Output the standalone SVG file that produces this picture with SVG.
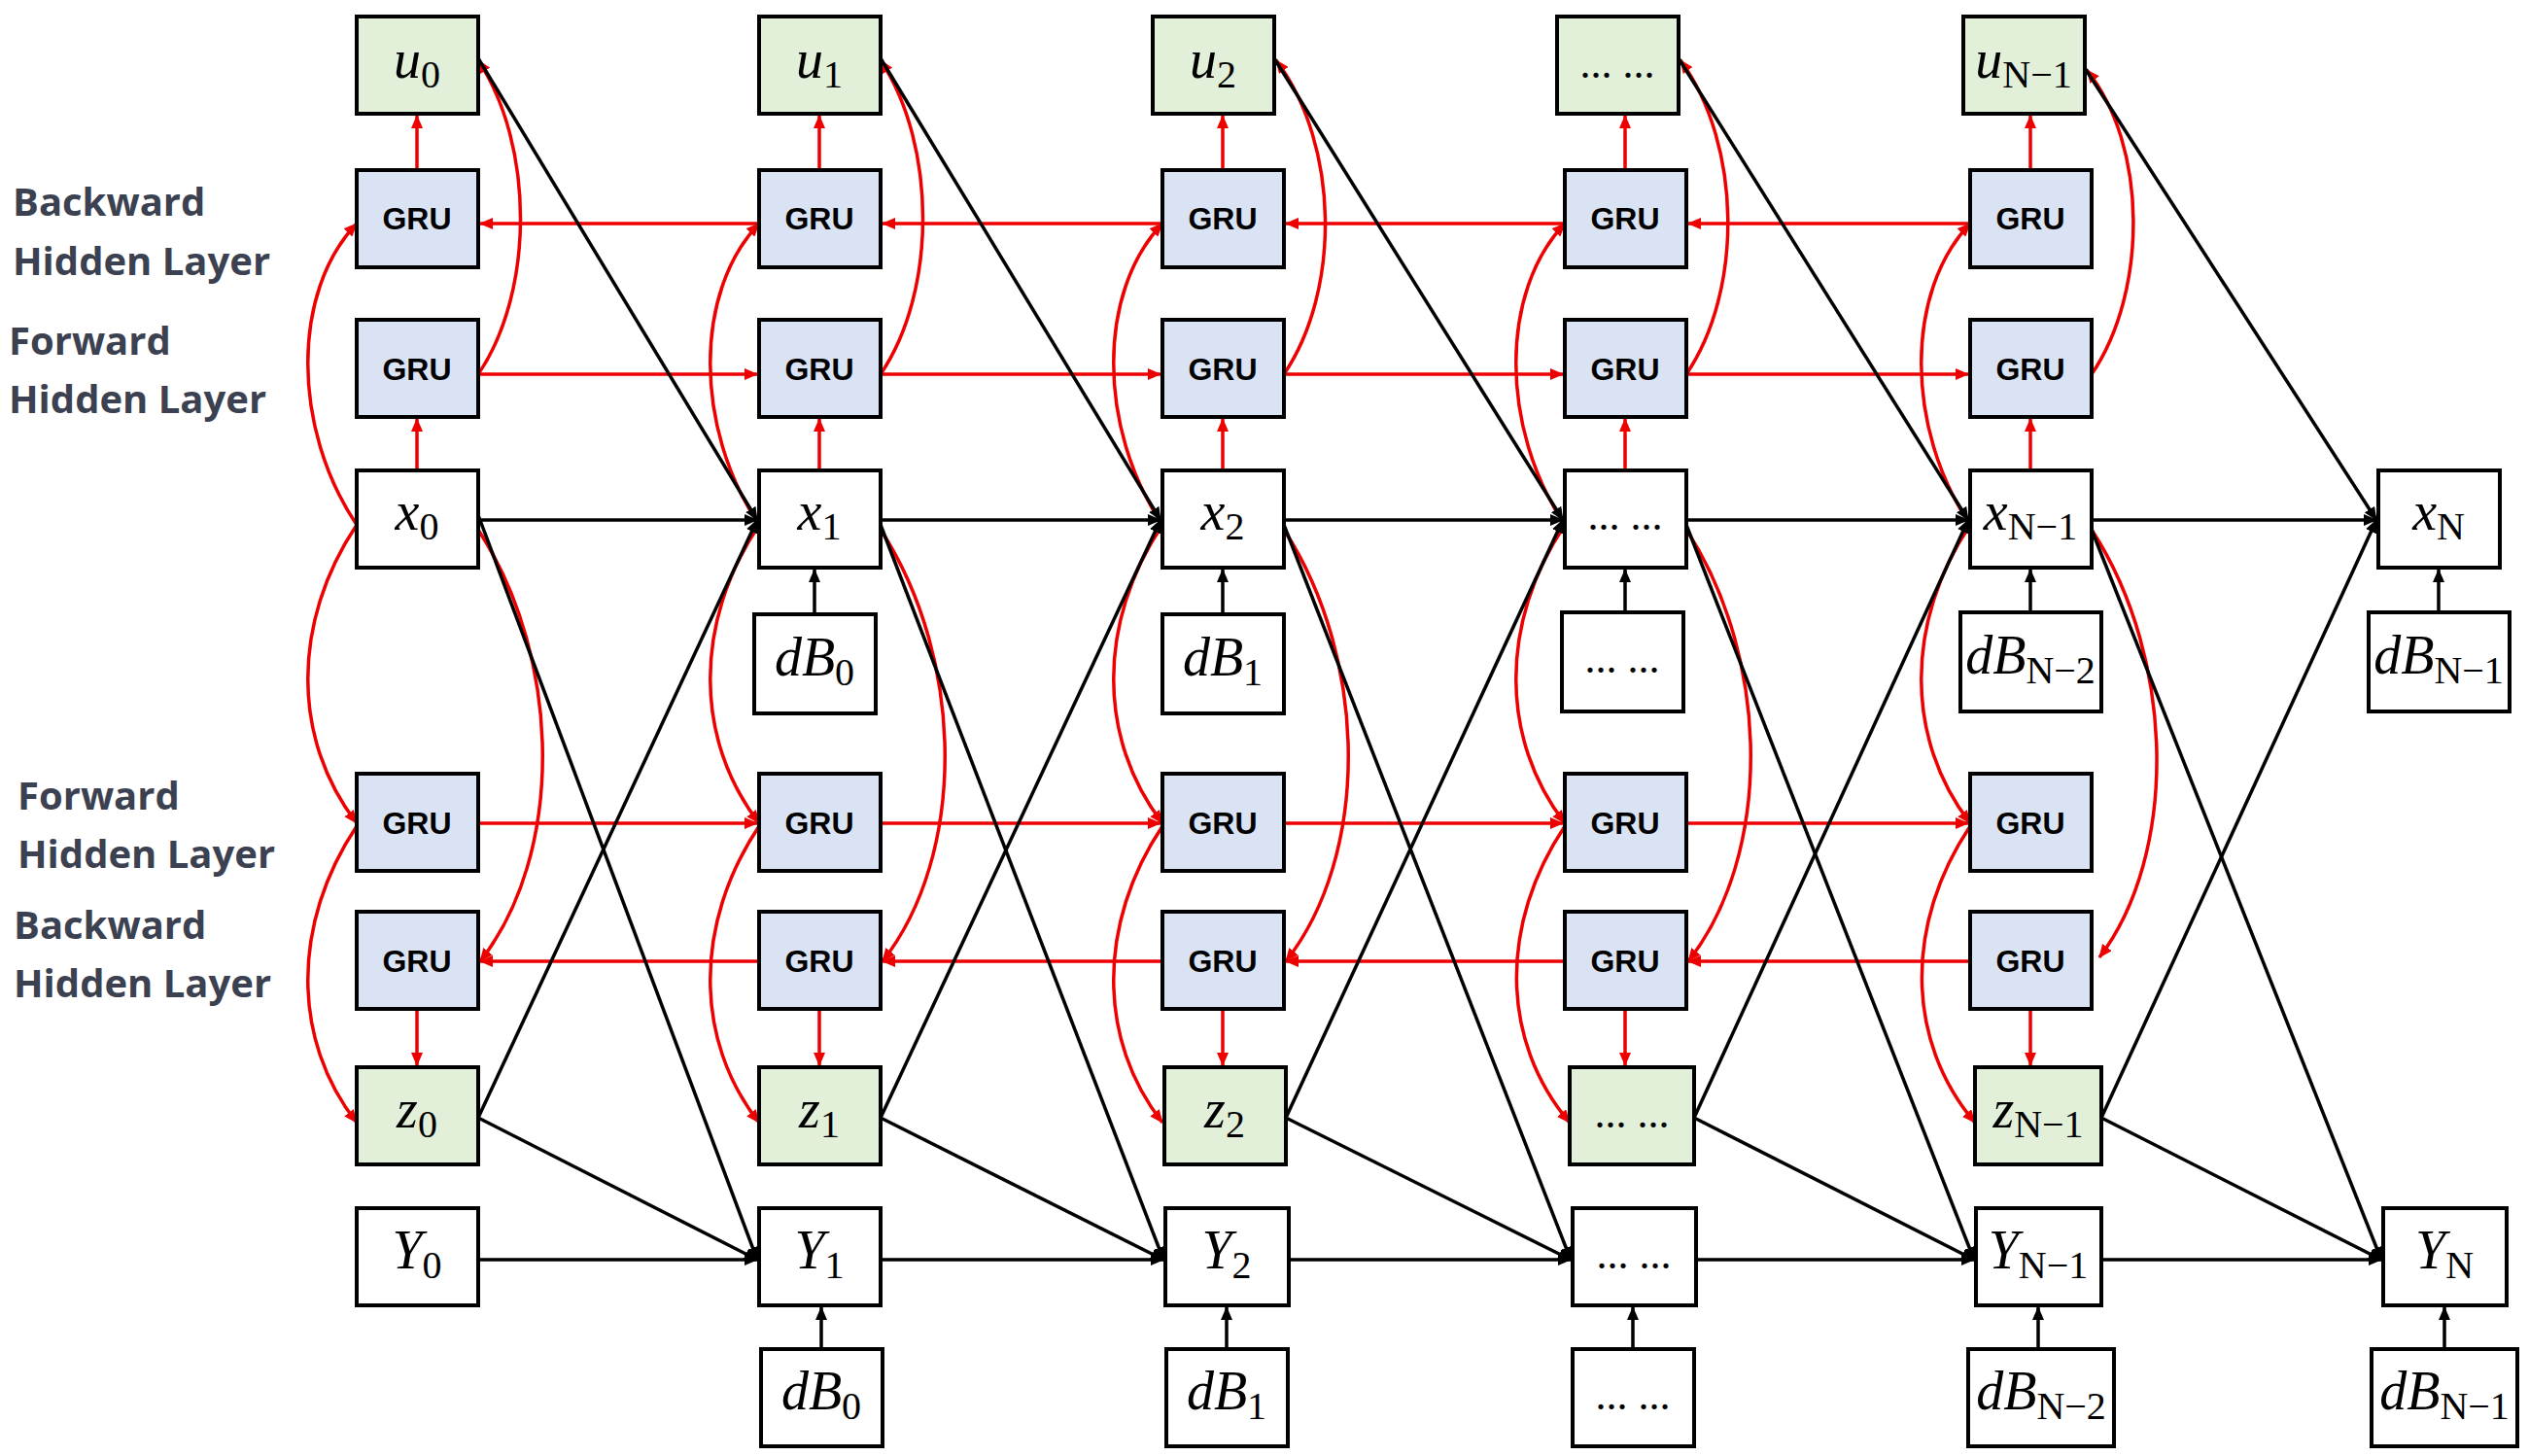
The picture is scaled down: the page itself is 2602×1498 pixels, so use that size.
<svg xmlns="http://www.w3.org/2000/svg" width="2602" height="1498" viewBox="0 0 2602 1498">
<defs>
<marker id="ab" markerWidth="14" markerHeight="12" refX="13" refY="6" orient="auto" markerUnits="userSpaceOnUse" viewBox="0 0 14 12"><path d="M0,0 L14,6 L0,12 z" fill="#000"/></marker>
<marker id="ar" markerWidth="14" markerHeight="12" refX="13" refY="6" orient="auto" markerUnits="userSpaceOnUse" viewBox="0 0 14 12"><path d="M0,0 L14,6 L0,12 z" fill="#e00"/></marker>
<style>
.b{stroke:#000;stroke-width:4}
.w{fill:#fff}.g{fill:#e2efd9}.bl{fill:#dae3f3}
.k{stroke:#000;stroke-width:3.5;fill:none;marker-end:url(#ab)}
.r{stroke:#e00;stroke-width:3.5;fill:none;marker-end:url(#ar)}
.m{font-family:"Liberation Serif",serif;font-style:italic;font-size:56px;text-anchor:middle}
.s{font-style:normal;font-size:40px}
.d{font-family:"Liberation Serif",serif;font-size:44px;text-anchor:middle}
.gru{font-family:"Liberation Sans",Arial,sans-serif;font-weight:bold;font-size:32px;text-anchor:middle}
.lab{font-family:"Open Sans","Liberation Sans",sans-serif;font-weight:bold;font-size:40px;fill:#3b4150}
</style>
</defs>
<g id="labels">
<text class="lab" x="13" y="222">Backward</text><text class="lab" x="13" y="283">Hidden Layer</text>
<text class="lab" x="9" y="365">Forward</text><text class="lab" x="9" y="425">Hidden Layer</text>
<text class="lab" x="18" y="833">Forward</text><text class="lab" x="18" y="893">Hidden Layer</text>
<text class="lab" x="14" y="966">Backward</text><text class="lab" x="14" y="1026">Hidden Layer</text>
</g>
<g id="connectors">
<path class="r" d="M429,175V119"/><path class="r" d="M843,175V119"/><path class="r" d="M1258,175V119"/><path class="r" d="M1672,175V119"/><path class="r" d="M2089,175V119"/>
<path class="r" d="M429,484V431"/><path class="r" d="M843,484V431"/><path class="r" d="M1258,484V431"/><path class="r" d="M1672,484V431"/><path class="r" d="M2089,484V431"/>
<path class="r" d="M429,1038V1096"/><path class="r" d="M843,1038V1096"/><path class="r" d="M1258,1038V1096"/><path class="r" d="M1672,1038V1096"/><path class="r" d="M2089,1038V1096"/>
<path class="r" d="M781,230H494"/><path class="r" d="M1196,230H908"/><path class="r" d="M1610,230H1323"/><path class="r" d="M2027,230H1737"/>
<path class="r" d="M492,385H779"/><path class="r" d="M906,385H1194"/><path class="r" d="M1321,385H1608"/><path class="r" d="M1735,385H2025"/>
<path class="r" d="M492,847H779"/><path class="r" d="M906,847H1194"/><path class="r" d="M1321,847H1608"/><path class="r" d="M1735,847H2025"/>
<path class="r" d="M781,989H494"/><path class="r" d="M1196,989H908"/><path class="r" d="M1610,989H1323"/><path class="r" d="M2027,989H1737"/>
<path class="r" d="M367,540 C300,440 300,300 367,230"/>
<path class="r" d="M367,540 C300,640 300,760 367,847"/>
<path class="r" d="M367,850 C300,950 300,1070 367,1155"/>
<path class="r" d="M492,385 C550,300 550,150 492,62"/>
<path class="r" d="M492,545 C580,680 580,880 494,989"/>
<path class="r" d="M781,540 C714,440 714,300 781,230"/>
<path class="r" d="M781,540 C714,640 714,760 781,847"/>
<path class="r" d="M781,850 C714,950 714,1070 781,1155"/>
<path class="r" d="M906,385 C964,300 964,150 906,62"/>
<path class="r" d="M906,545 C994,680 994,880 908,989"/>
<path class="r" d="M1196,540 C1129,440 1129,300 1196,230"/>
<path class="r" d="M1196,540 C1129,640 1129,760 1196,847"/>
<path class="r" d="M1196,850 C1129,950 1129,1070 1196,1155"/>
<path class="r" d="M1321,385 C1379,300 1379,150 1313,62"/>
<path class="r" d="M1321,545 C1409,680 1409,880 1323,989"/>
<path class="r" d="M1610,540 C1543,440 1543,300 1610,230"/>
<path class="r" d="M1610,540 C1543,640 1543,760 1610,847"/>
<path class="r" d="M1610,850 C1543,950 1543,1070 1615,1155"/>
<path class="r" d="M1735,385 C1793,300 1793,150 1729,62"/>
<path class="r" d="M1735,545 C1823,680 1823,880 1737,989"/>
<path class="r" d="M2027,540 C1960,440 1960,300 2027,230"/>
<path class="r" d="M2027,540 C1960,640 1960,760 2027,847"/>
<path class="r" d="M2027,850 C1960,950 1960,1070 2032,1155"/>
<path class="r" d="M2152,385 C2210,300 2210,150 2147,72"/>
<path class="r" d="M2152,545 C2240,680 2240,880 2160,985"/>
<path class="k" d="M492,535H779"/><path class="k" d="M906,535H1194"/><path class="k" d="M1321,535H1608"/><path class="k" d="M1735,535H2025"/><path class="k" d="M2152,535H2445"/>
<path class="k" d="M492,1296H779"/><path class="k" d="M906,1296H1197"/><path class="k" d="M1326,1296H1616"/><path class="k" d="M1745,1296H2031"/><path class="k" d="M2162,1296H2450"/>
<path class="k" d="M838,632V586"/><path class="k" d="M1258,632V586"/><path class="k" d="M1672,630V586"/><path class="k" d="M2089,630V586"/><path class="k" d="M2509,630V586"/>
<path class="k" d="M845,1388V1345"/><path class="k" d="M1262,1388V1345"/><path class="k" d="M1680,1388V1345"/><path class="k" d="M2097,1388V1345"/><path class="k" d="M2515,1388V1345"/>
<path class="k" d="M492,60L779,535"/><path class="k" d="M906,60L1194,535"/><path class="k" d="M1311,60L1608,535"/><path class="k" d="M1727,60L2025,535"/><path class="k" d="M2145,70L2445,535"/>
<path class="k" d="M492,530L779,1296"/><path class="k" d="M906,540L1197,1296"/><path class="k" d="M1321,540L1616,1296"/><path class="k" d="M1735,540L2031,1296"/><path class="k" d="M2152,545L2450,1296"/>
<path class="k" d="M492,1150L779,535"/><path class="k" d="M906,1150L1194,535"/><path class="k" d="M1323,1150L1608,535"/><path class="k" d="M1743,1150L2025,535"/><path class="k" d="M2162,1150L2445,535"/>
<path class="k" d="M492,1150L779,1296"/><path class="k" d="M906,1150L1197,1296"/><path class="k" d="M1323,1150L1616,1296"/><path class="k" d="M1743,1150L2031,1296"/><path class="k" d="M2162,1150L2450,1296"/>
</g>
<g id="nodes">
<g id="u0"><rect class="b g" x="367" y="17" width="125" height="100"/><text class="m" x="429" y="80">u<tspan class="s" dy="10">0</tspan></text></g>
<g id="u1"><rect class="b g" x="781" y="17" width="125" height="100"/><text class="m" x="843" y="80">u<tspan class="s" dy="10">1</tspan></text></g>
<g id="u2"><rect class="b g" x="1186" y="17" width="125" height="100"/><text class="m" x="1248" y="80">u<tspan class="s" dy="10">2</tspan></text></g>
<g id="u3"><rect class="b g" x="1602" y="17" width="125" height="100"/><text class="d" x="1664" y="80">... ...</text></g>
<g id="u4"><rect class="b g" x="2020" y="17" width="125" height="100"/><text class="m" x="2082" y="80">u<tspan class="s" dy="10">N−1</tspan></text></g>
<g id="bg0"><rect class="b bl" x="367" y="175" width="125" height="100"/><text class="gru" x="429" y="236">GRU</text></g>
<g id="bg1"><rect class="b bl" x="781" y="175" width="125" height="100"/><text class="gru" x="843" y="236">GRU</text></g>
<g id="bg2"><rect class="b bl" x="1196" y="175" width="125" height="100"/><text class="gru" x="1258" y="236">GRU</text></g>
<g id="bg3"><rect class="b bl" x="1610" y="175" width="125" height="100"/><text class="gru" x="1672" y="236">GRU</text></g>
<g id="bg4"><rect class="b bl" x="2027" y="175" width="125" height="100"/><text class="gru" x="2089" y="236">GRU</text></g>
<g id="fg0"><rect class="b bl" x="367" y="329" width="125" height="100"/><text class="gru" x="429" y="391">GRU</text></g>
<g id="fg1"><rect class="b bl" x="781" y="329" width="125" height="100"/><text class="gru" x="843" y="391">GRU</text></g>
<g id="fg2"><rect class="b bl" x="1196" y="329" width="125" height="100"/><text class="gru" x="1258" y="391">GRU</text></g>
<g id="fg3"><rect class="b bl" x="1610" y="329" width="125" height="100"/><text class="gru" x="1672" y="391">GRU</text></g>
<g id="fg4"><rect class="b bl" x="2027" y="329" width="125" height="100"/><text class="gru" x="2089" y="391">GRU</text></g>
<g id="x0"><rect class="b w" x="367" y="484" width="125" height="100"/><text class="m" x="429" y="545">x<tspan class="s" dy="10">0</tspan></text></g>
<g id="x1"><rect class="b w" x="781" y="484" width="125" height="100"/><text class="m" x="843" y="545">x<tspan class="s" dy="10">1</tspan></text></g>
<g id="x2"><rect class="b w" x="1196" y="484" width="125" height="100"/><text class="m" x="1258" y="545">x<tspan class="s" dy="10">2</tspan></text></g>
<g id="x3"><rect class="b w" x="1610" y="484" width="125" height="100"/><text class="d" x="1672" y="545">... ...</text></g>
<g id="x4"><rect class="b w" x="2027" y="484" width="125" height="100"/><text class="m" x="2089" y="545">x<tspan class="s" dy="10">N−1</tspan></text></g>
<g id="x5"><rect class="b w" x="2447" y="484" width="125" height="100"/><text class="m" x="2509" y="545">x<tspan class="s" dy="10">N</tspan></text></g>
<g id="db1"><rect class="b w" x="776" y="632" width="125" height="102"/><text class="m" x="838" y="695">dB<tspan class="s" dy="10">0</tspan></text></g>
<g id="db2"><rect class="b w" x="1196" y="632" width="125" height="102"/><text class="m" x="1258" y="695">dB<tspan class="s" dy="10">1</tspan></text></g>
<g id="db3"><rect class="b w" x="1607" y="630" width="125" height="102"/><text class="d" x="1669" y="692">... ...</text></g>
<g id="db4"><rect class="b w" x="2017" y="630" width="145" height="102"/><text class="m" x="2089" y="693">dB<tspan class="s" dy="10">N−2</tspan></text></g>
<g id="db5"><rect class="b w" x="2437" y="630" width="145" height="102"/><text class="m" x="2509" y="693">dB<tspan class="s" dy="10">N−1</tspan></text></g>
<g id="lf0"><rect class="b bl" x="367" y="796" width="125" height="100"/><text class="gru" x="429" y="858">GRU</text></g>
<g id="lf1"><rect class="b bl" x="781" y="796" width="125" height="100"/><text class="gru" x="843" y="858">GRU</text></g>
<g id="lf2"><rect class="b bl" x="1196" y="796" width="125" height="100"/><text class="gru" x="1258" y="858">GRU</text></g>
<g id="lf3"><rect class="b bl" x="1610" y="796" width="125" height="100"/><text class="gru" x="1672" y="858">GRU</text></g>
<g id="lf4"><rect class="b bl" x="2027" y="796" width="125" height="100"/><text class="gru" x="2089" y="858">GRU</text></g>
<g id="lb0"><rect class="b bl" x="367" y="938" width="125" height="100"/><text class="gru" x="429" y="1000">GRU</text></g>
<g id="lb1"><rect class="b bl" x="781" y="938" width="125" height="100"/><text class="gru" x="843" y="1000">GRU</text></g>
<g id="lb2"><rect class="b bl" x="1196" y="938" width="125" height="100"/><text class="gru" x="1258" y="1000">GRU</text></g>
<g id="lb3"><rect class="b bl" x="1610" y="938" width="125" height="100"/><text class="gru" x="1672" y="1000">GRU</text></g>
<g id="lb4"><rect class="b bl" x="2027" y="938" width="125" height="100"/><text class="gru" x="2089" y="1000">GRU</text></g>
<g id="z0"><rect class="b g" x="367" y="1098" width="125" height="100"/><text class="m" x="429" y="1160">z<tspan class="s" dy="10">0</tspan></text></g>
<g id="z1"><rect class="b g" x="781" y="1098" width="125" height="100"/><text class="m" x="843" y="1160">z<tspan class="s" dy="10">1</tspan></text></g>
<g id="z2"><rect class="b g" x="1198" y="1098" width="125" height="100"/><text class="m" x="1260" y="1160">z<tspan class="s" dy="10">2</tspan></text></g>
<g id="z3"><rect class="b g" x="1615" y="1098" width="128" height="100"/><text class="d" x="1679" y="1160">... ...</text></g>
<g id="z4"><rect class="b g" x="2032" y="1098" width="130" height="100"/><text class="m" x="2097" y="1160">z<tspan class="s" dy="10">N−1</tspan></text></g>
<g id="y0"><rect class="b w" x="367" y="1243" width="125" height="100"/><text class="m" x="429" y="1305">Y<tspan class="s" dy="10">0</tspan></text></g>
<g id="y1"><rect class="b w" x="781" y="1243" width="125" height="100"/><text class="m" x="843" y="1305">Y<tspan class="s" dy="10">1</tspan></text></g>
<g id="y2"><rect class="b w" x="1199" y="1243" width="127" height="100"/><text class="m" x="1262" y="1305">Y<tspan class="s" dy="10">2</tspan></text></g>
<g id="y3"><rect class="b w" x="1618" y="1243" width="127" height="100"/><text class="d" x="1681" y="1305">... ...</text></g>
<g id="y4"><rect class="b w" x="2033" y="1243" width="129" height="100"/><text class="m" x="2097" y="1305">Y<tspan class="s" dy="10">N−1</tspan></text></g>
<g id="y5"><rect class="b w" x="2452" y="1243" width="127" height="100"/><text class="m" x="2515" y="1305">Y<tspan class="s" dy="10">N</tspan></text></g>
<g id="dd1"><rect class="b w" x="783" y="1388" width="125" height="100"/><text class="m" x="845" y="1450">dB<tspan class="s" dy="10">0</tspan></text></g>
<g id="dd2"><rect class="b w" x="1200" y="1388" width="125" height="100"/><text class="m" x="1262" y="1450">dB<tspan class="s" dy="10">1</tspan></text></g>
<g id="dd3"><rect class="b w" x="1618" y="1388" width="125" height="100"/><text class="d" x="1680" y="1450">... ...</text></g>
<g id="dd4"><rect class="b w" x="2025" y="1388" width="150" height="100"/><text class="m" x="2100" y="1450">dB<tspan class="s" dy="10">N−2</tspan></text></g>
<g id="dd5"><rect class="b w" x="2440" y="1388" width="150" height="100"/><text class="m" x="2515" y="1450">dB<tspan class="s" dy="10">N−1</tspan></text></g>
</g>
</svg>
